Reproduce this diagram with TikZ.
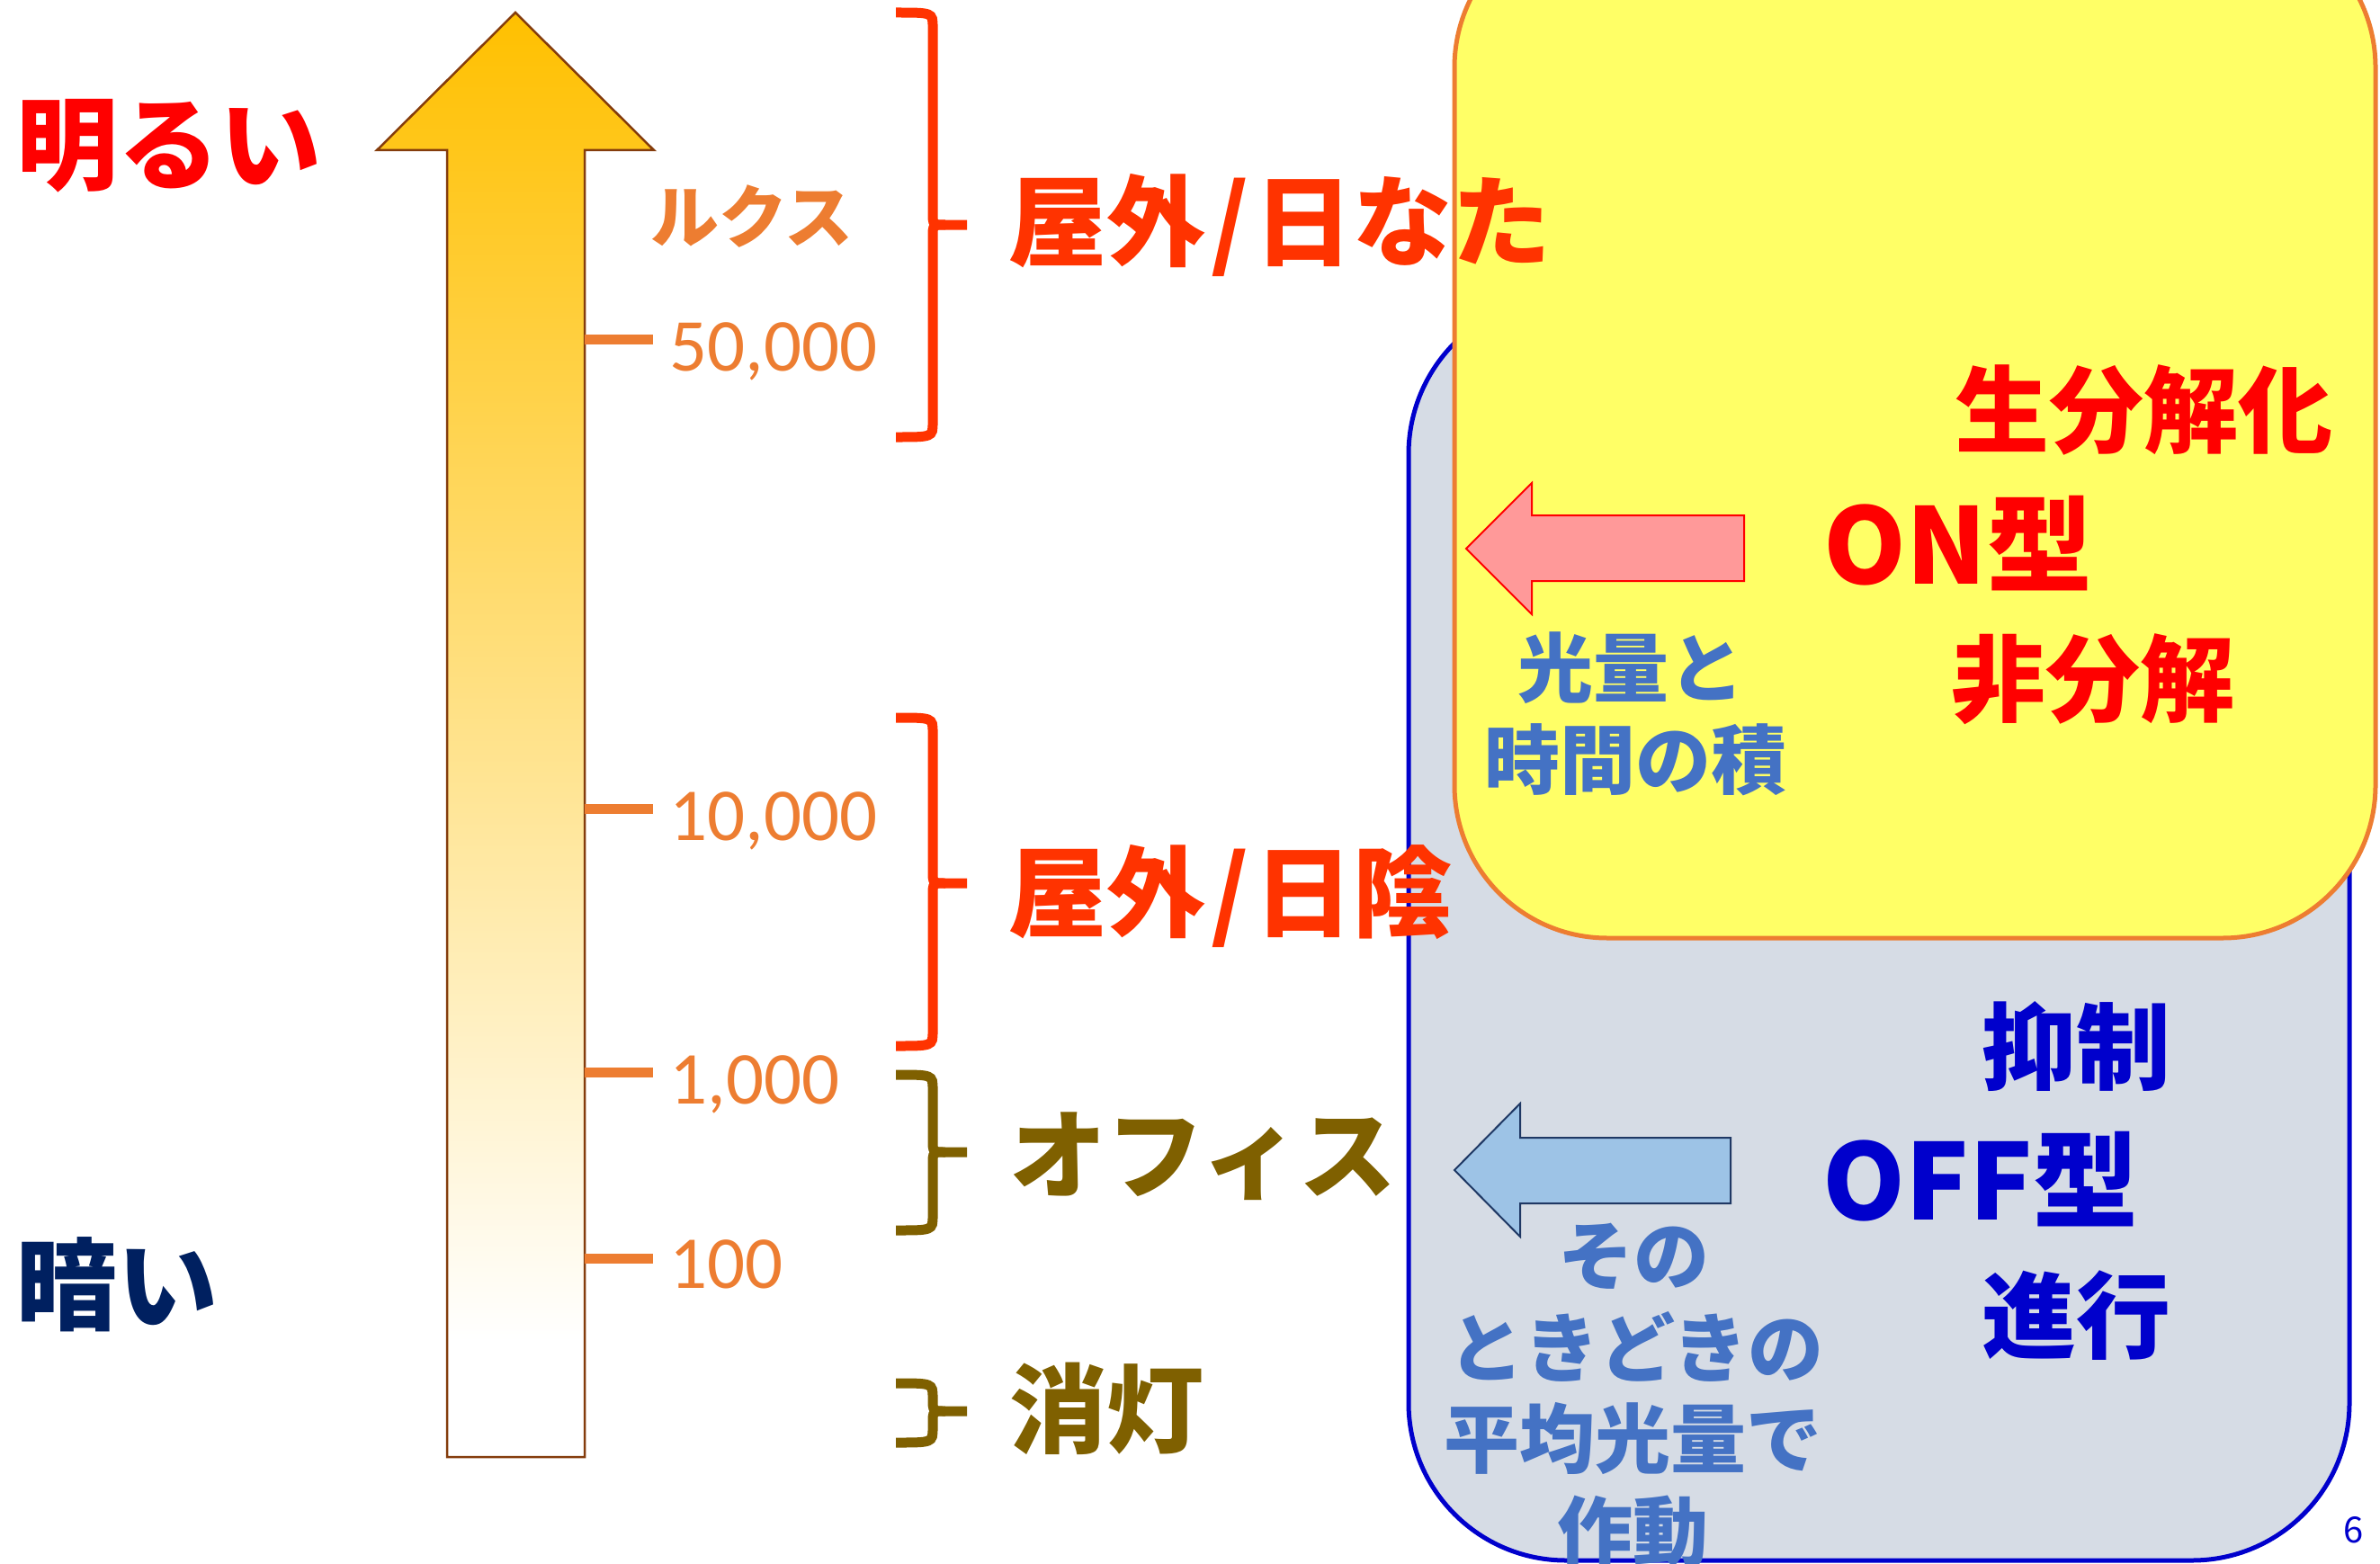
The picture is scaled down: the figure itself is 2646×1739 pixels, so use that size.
\documentclass[tikz,border=0pt]{standalone}
\usepackage{fontspec}
\newfontfamily\jp{Noto Sans CJK JP}
\newfontfamily\calf{Carlito}
\definecolor{brightred}{HTML}{FF0000}
\definecolor{darknavy}{HTML}{002060}
\definecolor{luxorange}{HTML}{ED7D31}
\definecolor{bracered}{HTML}{FF3300}
\definecolor{olive}{HTML}{7F6000}
\definecolor{arrowgold}{HTML}{FFC000}
\definecolor{arrowbrown}{HTML}{843C0C}
\definecolor{boxblue}{HTML}{0000CC}
\definecolor{boxgray}{HTML}{D6DCE5}
\definecolor{boxyellow}{HTML}{FFFF66}
\definecolor{pinkfill}{HTML}{FF9999}
\definecolor{bluefill}{HTML}{9DC3E6}
\definecolor{bluedark}{HTML}{1F3864}
\definecolor{textblue}{HTML}{4472C4}
\pgfdeclareverticalshading{arrowshade}{100bp}{color(0bp)=(white); color(29bp)=(white); color(75bp)=(arrowgold); color(100bp)=(arrowgold)}
\newcommand\fsz[1]{\fontsize{#1}{#1}\selectfont}
\newcommand\mybrk[4]{%
  \draw[#1, line width=11pt] (996,#2) .. controls (1037,#2) .. (1037,{#2+16}) -- (1037,{#3-14}) .. controls (1037,#3) .. (1051,#3) -- (1075,#3);
  \draw[#1, line width=11pt] (1051,#3) .. controls (1037,#3) .. (1037,{#3+14}) -- (1037,{#4-16}) .. controls (1037,#4) .. (996,#4);
}
\tikzset{
  jpbold/.style={font=\jp\bfseries, inner sep=0pt},
  numlabel/.style={font=\calf\fsz{83}, text=luxorange, inner sep=0pt, anchor=base west},
  tick/.style={draw=luxorange, line width=11pt},
}
\begin{document}
\begin{tikzpicture}[x=1pt,y=-1pt]
\useasboundingbox (0,0) rectangle (2646,1739);

% big gradient arrow
\path[draw=arrowbrown, line width=2.5pt, shading=arrowshade]
  (573,14) -- (727,167) -- (650,167) -- (650,1620) -- (497,1620) -- (497,167) -- (419,167) -- cycle;

% ticks
\coordinate (t50k) at (650,377);
\coordinate (t10k) at (650,899);
\coordinate (t1k) at (650,1192);
\coordinate (t100) at (650,1399);
\draw[tick] (t50k) -- ++(76,0);
\draw[tick] (t10k) -- ++(76,0);
\draw[tick] (t1k) -- ++(76,0);
\draw[tick] (t100) -- ++(76,0);

\node[numlabel] (n50k) at (744,412) {50,000};
\node[numlabel] (n10k) at (744,934) {10,000};
\node[numlabel] (n1k) at (744,1227) {1,000};
\node[numlabel] (n100) at (744,1432) {100};

\node[jpbold, font=\jp\bfseries\fsz{76}, text=luxorange] (lux) at (836,241) {ルクス};

\node[jpbold, font=\jp\bfseries\fsz{113}, text=brightred] (bright) at (188,162) {明るい};
\node[jpbold, font=\jp\bfseries\fsz{112}, text=darknavy] (dark) at (130,1428) {暗い};

% brackets
\mybrk{bracered}{14}{250}{486}
\mybrk{bracered}{798}{982}{1163}
\mybrk{olive}{1195}{1281}{1368}
\mybrk{olive}{1538}{1569}{1604}

% boxes
\draw[draw=boxblue, fill=boxgray, line width=5pt, rounded corners=175pt] (1566,330) rectangle (2612,1735);
\draw[draw=luxorange, fill=boxyellow, line width=5pt, rounded corners=170pt] (1617,-95) rectangle (2641,1043);

% arrows in boxes
\draw[draw=red, fill=pinkfill, line width=2pt] (1630,610) -- (1703,537) -- (1703,573) -- (1939,573) -- (1939,646) -- (1703,646) -- (1703,683) -- cycle;
\draw[draw=bluedark, fill=bluefill, line width=2pt] (1617,1301) -- (1690,1227) -- (1690,1265) -- (1924,1265) -- (1924,1338) -- (1690,1338) -- (1690,1375) -- cycle;

% box texts
\node[jpbold, font=\jp\bfseries\fsz{105}, text=brightred] (bio) at (2383,456) {生分解化};
\node[jpbold, font=\jp\bfseries\fsz{117}, text=brightred] (on) at (2177,604) {ON型};
\node[jpbold, font=\jp\bfseries\fsz{105}, text=brightred] (nonbio) at (2327,755) {非分解};
\node[jpbold, font=\jp\bfseries\fsz{105}, text=boxblue] (supp) at (2308,1164) {抑制};
\node[jpbold, font=\jp\bfseries\fsz{117}, text=boxblue] (off) at (2202,1311) {OFF型};
\node[jpbold, font=\jp\bfseries\fsz{105}, text=boxblue] (prog) at (2308,1463) {進行};

\node[jpbold, font=\jp\bfseries\fsz{84}, text=textblue] (on1) at (1813,743) {光量と};
\node[jpbold, font=\jp\bfseries\fsz{84}, text=textblue] (on2) at (1818,845) {時間の積};
\node[jpbold, font=\jp\bfseries\fsz{84}, text=textblue] (off1) at (1816,1397) {その};
\node[jpbold, font=\jp\bfseries\fsz{84}, text=textblue] (off2) at (1819,1497) {ときどきの};
\node[jpbold, font=\jp\bfseries\fsz{84}, text=textblue] (off3) at (1815,1600) {平均光量で};
\node[jpbold, font=\jp\bfseries\fsz{84}, text=textblue] (off4) at (1815,1703) {作動};

\node[font=\jp\fsz{40}, text=boxblue, inner sep=0pt] (page) at (2617,1701) {6};

% left labels
\node[jpbold, font=\jp\bfseries\fsz{110}, text=bracered, anchor=west] (sunny) at (1120,250) {屋外\kern6pt/\kern6pt日なた};
\node[jpbold, font=\jp\bfseries\fsz{110}, text=bracered, anchor=west] (shade) at (1120,996) {屋外\kern6pt/\kern6pt日陰};
\node[jpbold, font=\jp\bfseries\fsz{108}, text=olive, anchor=west] (office) at (1122,1286) {オフィス};
\node[jpbold, font=\jp\bfseries\fsz{108}, text=olive, anchor=west] (lightsoff) at (1122,1566) {消灯};
\end{tikzpicture}
\end{document}
